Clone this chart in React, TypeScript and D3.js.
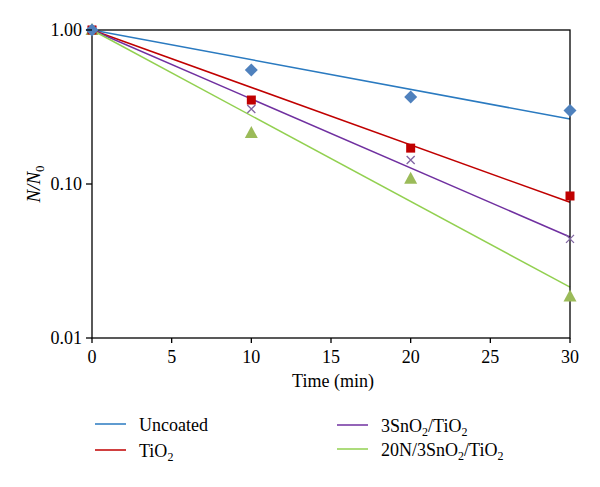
import React from "react";
import * as d3 from "d3";

const times = [0, 10, 20, 30];
const uncoated = [1.0, 0.55, 0.367, 0.3];
const tio2 = [1.0, 0.351, 0.171, 0.0836];
const sno2 = [1.0, 0.307, 0.143, 0.044];
const n20 = [1.0, 0.214, 0.108, 0.0186];
const xTicks = [0, 5, 10, 15, 20, 25, 30];
const yTicks = [1, 0.1, 0.01];

type Series = { name: string; values: number[]; line: string; marker: string; shape: string };

const series: Series[] = [
  { name: "Uncoated", values: uncoated, line: "#2a7ac0", marker: "#4f81bd", shape: "diamond" },
  { name: "TiO2", values: tio2, line: "#c00000", marker: "#c00000", shape: "square" },
  { name: "3SnO2/TiO2", values: sno2, line: "#7030a0", marker: "#8064a2", shape: "x" },
  { name: "20N/3SnO2/TiO2", values: n20, line: "#92d050", marker: "#9bbb59", shape: "triangle" },
];

function fitSlope(vals: number[]) {
  // exponential fit forced through N/N0 = 1 at t = 0 (log-space regression through origin)
  let sxy = 0, sxx = 0;
  times.forEach((t, i) => { sxy += t * Math.log10(vals[i]); sxx += t * t; });
  return sxy / sxx;
}

function Label({ text }: { text: string }) {
  // "2" after "O" is a subscript; following text returns to baseline
  const tokens = text.split(/(?<=O)(2)/);
  const out: React.ReactNode[] = [];
  let shifted = false;
  tokens.forEach((p, i) => {
    if (p === "") return;
    if (p === "2" && i % 2 === 1) {
      out.push(<tspan key={i} fontSize={12} dy={4}>2</tspan>);
      shifted = true;
    } else {
      out.push(<tspan key={i} dy={shifted ? -4 : 0}>{p}</tspan>);
      shifted = false;
    }
  });
  return <>{out}</>;
}

const FONT = "Liberation Serif";

export default function App() {
  const W = 600, H = 487;
  const left = 92, right = 570, top = 30, bottom = 338;
  const x = d3.scaleLinear().domain([0, 30]).range([left, right]);
  const y = d3.scaleLog().domain([0.01, 1]).range([bottom, top]);
  const line = d3.line<[number, number]>().x(d => x(d[0])).y(d => y(d[1]));

  const marker = (s: Series, t: number, v: number, k: string) => {
    const cx = x(t), cy = y(v);
    if (s.shape === "diamond") {
      const r = 6.5;
      return <path key={k} d={`M${cx},${cy - r}L${cx + r},${cy}L${cx},${cy + r}L${cx - r},${cy}Z`} fill={s.marker} />;
    }
    if (s.shape === "square") {
      return <rect key={k} x={cx - 4.5} y={cy - 4.5} width={9} height={9} fill={s.marker} />;
    }
    if (s.shape === "triangle") {
      return <path key={k} d={`M${cx},${cy - 7}L${cx + 6.5},${cy + 5}L${cx - 6.5},${cy + 5}Z`} fill={s.marker} />;
    }
    return (
      <path key={k} d={`M${cx - 4},${cy - 4}L${cx + 4},${cy + 4}M${cx - 4},${cy + 4}L${cx + 4},${cy - 4}`} stroke={s.marker} strokeWidth={1.3} fill="none" />
    );
  };

  const drawOrder = [3, 2, 1, 0];
  const legendItems = [
    { s: series[0], lx: 95, ly: 424 },
    { s: series[1], lx: 95, ly: 450 },
    { s: series[2], lx: 337, ly: 425 },
    { s: series[3], lx: 337, ly: 449 },
  ];

  const txt = { fontFamily: FONT };

  return (
    <svg width={W} height={H} style={{ display: "block", position: "absolute", left: 0, top: 0, fontFamily: FONT }}>
      <rect width={W} height={H} fill="#fff" />
      {series.map((s, i) => {
        const b = fitSlope(s.values);
        const pts: [number, number][] = [[0, 1], [30, Math.pow(10, b * 30)]];
        return <path key={"l" + i} d={line(pts) || ""} stroke={s.line} strokeWidth={1.5} fill="none" />;
      })}
      <rect x={left} y={top} width={right - left} height={bottom - top} fill="none" stroke="#000" strokeWidth={1.3} />
      {drawOrder.map(i => series[i].values.map((v, j) => marker(series[i], times[j], v, `m${i}-${j}`)))}
      {yTicks.map(t => (
        <g key={"y" + t}>
          <line x1={left - 6} x2={left} y1={y(t)} y2={y(t)} stroke="#000" strokeWidth={1.3} />
          <text x={left - 10} y={y(t) + 6} textAnchor="end" fontSize={18} style={txt}>{t.toFixed(2)}</text>
        </g>
      ))}
      {xTicks.map(t => (
        <g key={"x" + t}>
          <line x1={x(t)} x2={x(t)} y1={bottom} y2={bottom + 5} stroke="#000" strokeWidth={1.3} />
          <text x={x(t)} y={bottom + 25} textAnchor="middle" fontSize={18} style={txt}>{t}</text>
        </g>
      ))}
      <text x={333} y={387} textAnchor="middle" fontSize={18} style={txt}>Time (min)</text>
      <text transform={`translate(40,${(top + bottom) / 2}) rotate(-90)`} textAnchor="middle" fontSize={19} style={txt}>
        <tspan fontStyle="italic">N/N</tspan>
        <tspan fontSize={13} dy={4}>0</tspan>
      </text>
      {legendItems.map(({ s, lx, ly }, i) => (
        <g key={"lg" + i}>
          <line x1={lx} x2={lx + 31} y1={ly} y2={ly} stroke={s.line} strokeWidth={1.5} />
          <text x={lx + 44} y={ly + 7} fontSize={18} style={txt}>
            <Label text={s.name} />
          </text>
        </g>
      ))}
    </svg>
  );
}
